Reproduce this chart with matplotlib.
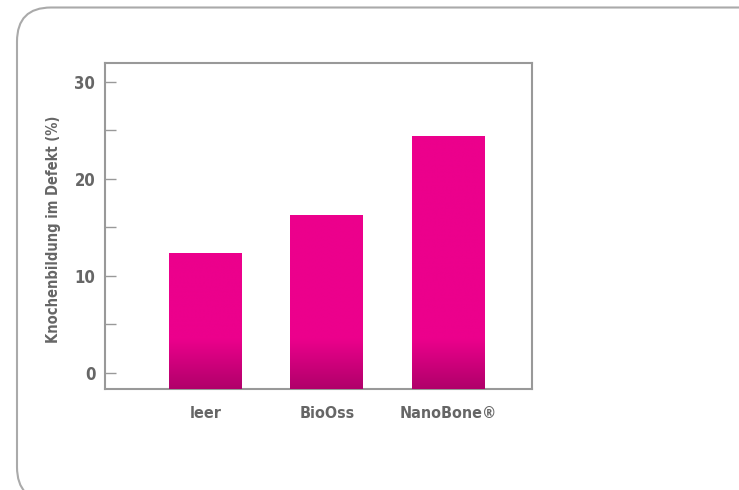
import numpy as np
import matplotlib
matplotlib.use('Agg')
import matplotlib.pyplot as plt
from matplotlib.patches import FancyBboxPatch
from matplotlib.colors import LinearSegmentedColormap, Normalize
from matplotlib.transforms import IdentityTransform

plt.rcParams['font.family'] = ['DejaVu Sans']
plt.rcParams['font.stretch'] = 'condensed'
plt.rcParams['font.weight'] = 'bold'

# data
groups  = ['leer', 'BioOss', 'NanoBone®']
values  = [12.3, 16.3, 24.4]
yticks  = [0, 10, 20, 30]
yminor  = [5, 15, 25]
ylabel  = 'Knochenbildung im Defekt (%)'

grey    = '#999999'
txt     = '#666666'
pink    = '#EC008C'
dark    = '#B0006A'
ybottom = -1.7

fig = plt.figure(figsize=(7.39, 4.90), dpi=100)

# rounded frame, clipped by the figure on the right and bottom
frame = FancyBboxPatch((17, -11), 800, 493.5,
                       boxstyle='round,pad=0,rounding_size=34',
                       transform=IdentityTransform(),
                       fc='none', ec='#aaaaaa', lw=1.5)
fig.add_artist(frame)

ax = fig.add_axes([0.1421, 0.2061, 0.5772, 0.6653])
x = np.arange(len(groups))
bars = ax.bar(x, np.array(values) - ybottom, bottom=ybottom, width=0.6,
              color=pink, lw=0, zorder=2)

# dark fade at the foot of each bar
cmap = LinearSegmentedColormap.from_list('fade', [dark, pink])
norm = Normalize(vmin=ybottom, vmax=3.5, clip=True)
for xi, v, b in zip(x, values, bars):
  grad = np.linspace(ybottom, v, 300)[:, None]
  im = ax.imshow(grad, extent=[xi - 0.3, xi + 0.3, ybottom, v],
                 origin='lower', aspect='auto', cmap=cmap, norm=norm,
                 zorder=3, interpolation='bilinear')
  im.set_clip_path(b)

ax.set_xlim(-0.83, 2.69)
ax.set_ylim(ybottom, 31.96)
ax.set_yticks(yticks)
ax.set_yticks(yminor, minor=True)
ax.set_xticks(x)
ax.set_xticklabels(groups)

for s in ax.spines.values():
  s.set_color(grey)
  s.set_linewidth(1.5)

ax.tick_params(axis='y', which='both', direction='in', length=8, width=1,
               color=grey, labelcolor=txt, labelsize=12, pad=7)
ax.tick_params(axis='x', length=0, labelcolor=txt, labelsize=11.5, pad=12)
ax.set_ylabel(ylabel, color=txt, fontsize=10.5, fontweight='bold')
ax.yaxis.set_label_coords(-0.103, 0.49)

plt.savefig('out.png', dpi=100)
